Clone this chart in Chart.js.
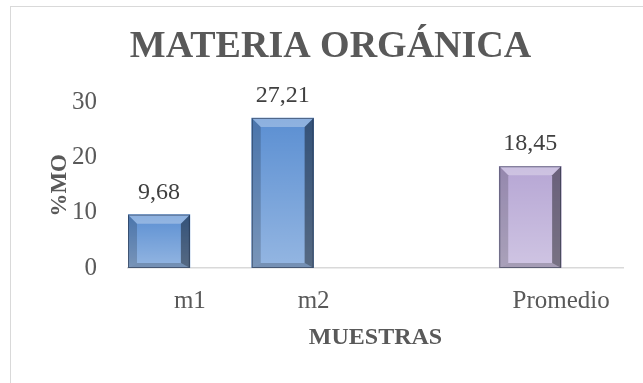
<!DOCTYPE html>
<html>
<head>
<meta charset="utf-8">
<script src="https://cdn.jsdelivr.net/npm/chart.js@4"></script>
<style>
    body { margin: 0; background: #fff; }
    #wrap { position: relative; width: 643px; height: 383px; overflow: hidden; }
    #frame { position: absolute; left: 10px; top: 6px; width: 700px; height: 420px; border: 1px solid #d9d9d9; }
    #mChart { position: absolute; left: 0; top: 0; }
</style>
</head>
<body>
<div id="wrap">
    <div id="frame"></div>
    <canvas id="mChart" width="643" height="383"></canvas>
</div>
<script>
const categories = ['m1', 'm2', '', 'Promedio'];
const moValues = [9.68, 27.21, null, 18.45];
const emptySeries = [null, null, null, null];
const yTicks = [0, 10, 20, 30];
const barColors = ['#5b8fd2', '#5b8fd2', '#5b8fd2', '#b6a6d4'];

const serif = "'Liberation Serif', 'Times New Roman', serif";
const gray = '#595959';

// Fill a polygon from a list of [x, y] points
function poly(ctx, pts, fill) {
    ctx.beginPath();
    ctx.moveTo(pts[0][0], pts[0][1]);
    for (let i = 1; i < pts.length; i++) ctx.lineTo(pts[i][0], pts[i][1]);
    ctx.closePath();
    ctx.fillStyle = fill;
    ctx.fill();
}

// Bevel shading drawn over each bar of the first series
const bevelPlugin = {
    id: 'bevel',
    afterDatasetsDraw(chart) {
        const ctx = chart.ctx;
        const meta = chart.getDatasetMeta(0);
        meta.data.forEach((bar, i) => {
            if (moValues[i] === null) return;
            const { x, y, base, width } = bar.getProps(['x', 'y', 'base', 'width'], true);
            const l = x - width / 2, r = x + width / 2, t = y, b = base;
            const e = 9;
            ctx.save();
            const g = ctx.createLinearGradient(0, t, 0, b);
            g.addColorStop(0, 'rgba(255,255,255,0)');
            g.addColorStop(1, 'rgba(255,255,255,0.35)');
            ctx.fillStyle = g;
            ctx.fillRect(l, t, width, b - t);
            poly(ctx, [[l, t], [r, t], [r - e, t + e], [l + e, t + e]], 'rgba(255,255,255,0.3)');
            poly(ctx, [[l, t], [l + e, t + e], [l + e, b - 5], [l, b]], 'rgba(0,0,0,0.18)');
            poly(ctx, [[r, t], [r, b], [r - e, b - 5], [r - e, t + e]], 'rgba(0,0,0,0.42)');
            poly(ctx, [[l, b], [l + e, b - 5], [r - e, b - 5], [r, b]], 'rgba(0,0,0,0.2)');
            ctx.strokeStyle = 'rgba(20,30,50,0.5)';
            ctx.lineWidth = 1;
            ctx.strokeRect(l + 0.5, t + 0.5, width - 1, b - t - 1);
            ctx.restore();
        });
    }
};

// Value labels above the bars, with decimal comma
const valueLabels = {
    id: 'valueLabels',
    afterDatasetsDraw(chart) {
        const ctx = chart.ctx;
        const meta = chart.getDatasetMeta(0);
        ctx.save();
        ctx.font = '24px ' + serif;
        ctx.fillStyle = '#404040';
        ctx.textAlign = 'center';
        ctx.textBaseline = 'alphabetic';
        meta.data.forEach((bar, i) => {
            if (moValues[i] === null) return;
            ctx.fillText(moValues[i].toFixed(2).replace('.', ','), bar.x, bar.y - 16);
        });
        ctx.restore();
    }
};

const ctx = document.getElementById('mChart').getContext('2d');
const chart = new Chart(ctx, {
    type: 'bar',
    data: {
        labels: categories,
        datasets: [{
            label: '%MO',
            data: moValues,
            backgroundColor: barColors,
            borderWidth: 0
        }, {
            label: '',
            data: emptySeries
        }]
    },
    options: {
        responsive: false,
        animation: false,
        categoryPercentage: 1,
        barPercentage: 1,
        layout: { padding: { left: 38, right: 20, top: 0, bottom: 31 } },
        plugins: {
            legend: { display: false },
            tooltip: { enabled: false },
            title: {
                display: true,
                text: 'MATERIA ORGÁNICA',
                color: gray,
                font: { family: serif, size: 38, weight: 'bold' },
                padding: { top: 24, bottom: 33 }
            }
        },
        scales: {
            x: {
                grid: { display: false },
                border: { color: '#d9d9d9', width: 1.5 },
                afterFit: (scale) => { scale.height = 84; },
                ticks: { color: gray, font: { family: serif, size: 25 }, padding: 10, maxRotation: 0 },
                title: {
                    display: true,
                    text: 'MUESTRAS',
                    color: gray,
                    font: { family: serif, size: 24, weight: 'bold' },
                    padding: { top: 0, bottom: 0 }
                }
            },
            y: {
                min: 0,
                max: 30,
                grid: { display: false },
                border: { display: false },
                afterBuildTicks: (scale) => { scale.ticks = yTicks.map(v => ({ value: v })); },
                afterFit: (scale) => { scale.width = 90; },
                ticks: { color: gray, font: { family: serif, size: 25 }, padding: 23 },
                title: {
                    display: true,
                    text: '%MO',
                    color: gray,
                    font: { family: serif, size: 23, weight: 'bold' },
                    padding: { top: 8, bottom: 0 }
                }
            }
        }
    },
    plugins: [bevelPlugin, valueLabels]
});
</script>
</body>
</html>
